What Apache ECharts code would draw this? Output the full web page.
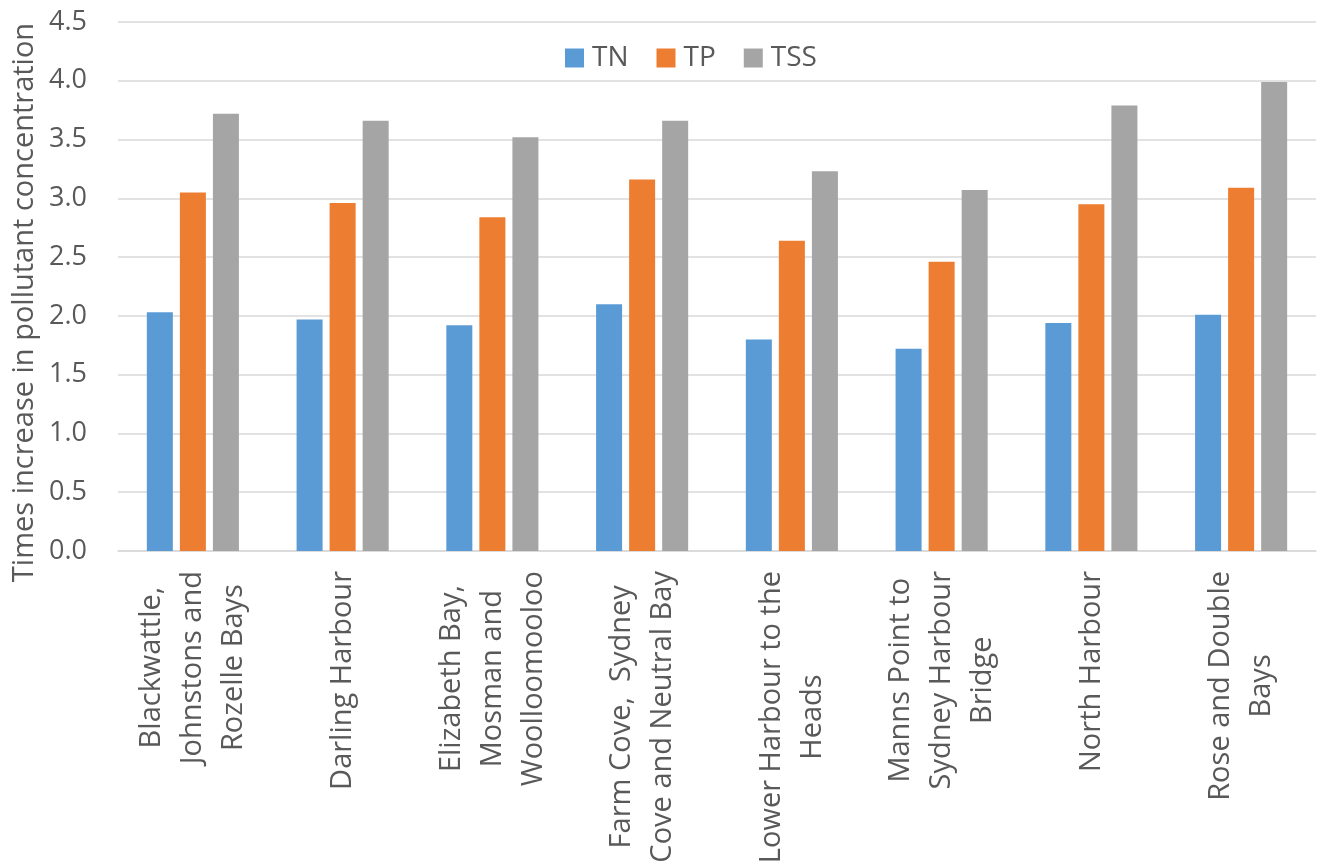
<!DOCTYPE html>
<html>
<head>
<meta charset="utf-8">
<script src="https://cdn.jsdelivr.net/npm/echarts@6/dist/echarts.min.js"></script>
<style>
  html, body { margin: 0; padding: 0; background: #ffffff; }
  #chart { width: 1320px; height: 861px; }
</style>
</head>
<body>
<div id="chart"></div>
<script>
// Harbour catchments (line breaks as they appear under the axis)
const categories = [
  'Blackwattle,\nJohnstons and\nRozelle Bays',
  'Darling Harbour',
  'Elizabeth Bay,\nMosman and\nWoolloomooloo',
  'Farm Cove,  Sydney\nCove and Neutral Bay',
  'Lower Harbour to the\nHeads',
  'Manns Point to\nSydney Harbour\nBridge',
  'North Harbour',
  'Rose and Double\nBays'
];

// Times increase in concentration, per pollutant
const tnValues  = [2.03, 1.97, 1.92, 2.10, 1.80, 1.72, 1.94, 2.01];
const tpValues  = [3.05, 2.96, 2.84, 3.16, 2.64, 2.46, 2.95, 3.09];
const tssValues = [3.72, 3.66, 3.52, 3.66, 3.23, 3.07, 3.79, 3.99];

const seriesNames = ['TN', 'TP', 'TSS'];
const yAxisTitle = 'Times increase in pollutant concentration';
const yMin = 0, yMax = 4.5, yStep = 0.5;

const FONT = '"Open Sans", "Noto Sans", sans-serif';
const TEXT = '#595959';
const GRID = '#d9d9d9';

const chart = echarts.init(document.getElementById('chart'), null, { renderer: 'canvas' });

const option = {
  animation: false,
  backgroundColor: '#ffffff',
  color: ['#5b9bd5', '#ed7d31', '#a5a5a5'],
  textStyle: { fontFamily: FONT },
  grid: {
    left: 118, right: 4, top: 22, bottom: 310,
    containLabel: false,
    outerBoundsMode: 'none'
  },
  legend: {
    data: seriesNames,
    left: 560,
    top: 39,
    icon: 'rect',
    itemWidth: 19,
    itemHeight: 19,
    itemGap: 28,
    textStyle: { fontSize: 28, color: TEXT, fontFamily: FONT, padding: [0, 0, 0, 3] }
  },
  xAxis: {
    type: 'category',
    data: categories,
    axisLine: { show: true, lineStyle: { color: GRID, width: 1.5 } },
    axisTick: { show: false },
    axisLabel: {
      interval: 0,
      rotate: 90,
      margin: 20,
      color: TEXT,
      fontSize: 29,
      lineHeight: 41,
      fontFamily: FONT,
      hideOverlap: false,
      // each line centred within the label block
      formatter: (v) => v.split('\n').map((line) => '{c|' + line + '}').join('\n'),
      rich: {
        c: { align: 'center', fontSize: 29, lineHeight: 41, color: TEXT, fontFamily: FONT }
      }
    }
  },
  yAxis: {
    type: 'value',
    min: yMin,
    max: yMax,
    interval: yStep,
    name: yAxisTitle,
    nameLocation: 'middle',
    nameRotate: 90,
    nameGap: 79,
    nameMoveOverlap: false,
    nameTextStyle: { fontSize: 29, color: TEXT, fontFamily: FONT, padding: [0, 32, 0, 0] },
    axisLine: { show: false },
    axisTick: { show: false },
    splitLine: { lineStyle: { color: GRID, width: 1.5 } },
    axisLabel: {
      margin: 31,
      color: TEXT,
      fontSize: 27,
      fontFamily: FONT,
      formatter: (v) => v.toFixed(1)
    }
  },
  series: [
    { name: seriesNames[0], type: 'bar', data: tnValues,  barGap: '27%', barCategoryGap: '38.5%' },
    { name: seriesNames[1], type: 'bar', data: tpValues,  barGap: '27%', barCategoryGap: '38.5%' },
    { name: seriesNames[2], type: 'bar', data: tssValues, barGap: '27%', barCategoryGap: '38.5%' }
  ]
};

chart.setOption(option);
</script>
</body>
</html>
